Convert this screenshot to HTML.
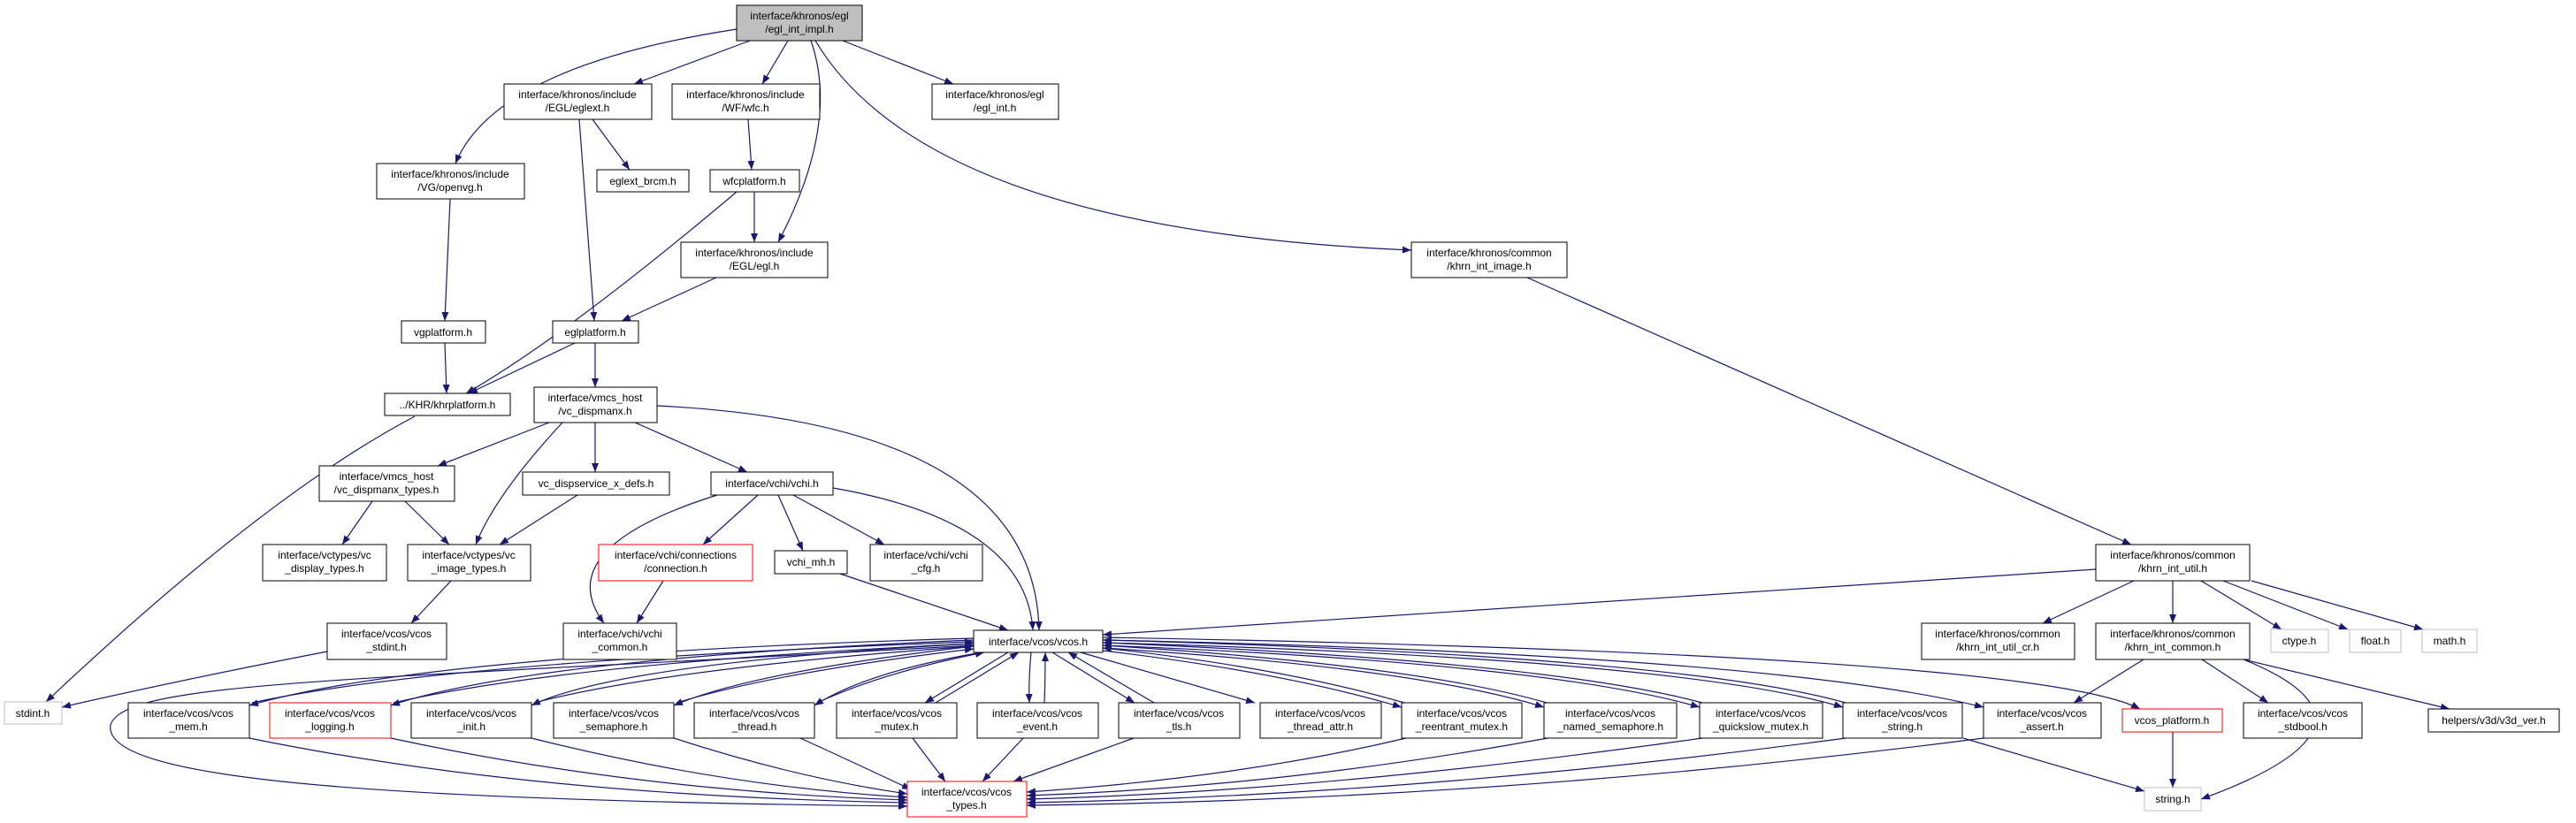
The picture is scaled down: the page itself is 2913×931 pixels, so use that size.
<!DOCTYPE html>
<html><head><meta charset="utf-8"><style>
html,body{margin:0;padding:0;background:#fff;width:2913px;height:931px;overflow:hidden}
svg{display:block}
text{font-family:"Liberation Sans",sans-serif;font-size:12px;fill:#000;text-anchor:middle}
.e{fill:none;stroke:#191970;stroke-width:1.2}
.n{fill:#fff;stroke:#000;stroke-width:1}
.g{fill:#fff;stroke:#bfbfbf;stroke-width:1}
.r{fill:#fff;stroke:#ff0000;stroke-width:1}
</style></head><body>
<svg width="2913" height="931" viewBox="0 0 2913 931" xmlns="http://www.w3.org/2000/svg">
<defs><marker id="a" markerUnits="userSpaceOnUse" markerWidth="11" markerHeight="8" refX="10" refY="4" orient="auto"><path d="M0,0 L10,4 L0,8 z" fill="#191970"/></marker></defs>
<g class="e" marker-end="url(#a)">
<path d="M833,33 Q560,75 515,185"/>
<path d="M848,46 L717,95"/>
<path d="M891,46 L862,95"/>
<path d="M917,46 Q950,140 880,274"/>
<path d="M953,46 L1078,95"/>
<path d="M922,46 Q1050,260 1596,283"/>
<path d="M670,135 L712,192"/>
<path d="M655,135 L672,363"/>
<path d="M846,135 L850,192"/>
<path d="M853,217 L853,274"/>
<path d="M833,217 Q640,380 527,445"/>
<path d="M509,225 L503,363"/>
<path d="M503,388 L505,445"/>
<path d="M810,314 L703,363"/>
<path d="M650,388 L530,445"/>
<path d="M673,388 L673,438"/>
<path d="M1727,314 L2410,616"/>
<path d="M469,471 Q300,560 52,794"/>
<path d="M621,478 L495,527"/>
<path d="M636,478 Q560,560 538,616"/>
<path d="M673,478 L673,534"/>
<path d="M718,478 L845,534"/>
<path d="M743,459 Q1170,480 1175,713"/>
<path d="M421,567 L387,616"/>
<path d="M458,567 L508,616"/>
<path d="M653,560 L565,616"/>
<path d="M510,657 L465,705"/>
<path d="M370,737 Q200,770 70,800"/>
<path d="M811,560 Q620,620 683,705"/>
<path d="M857,560 L795,616"/>
<path d="M880,560 L908,623"/>
<path d="M897,560 L1000,616"/>
<path d="M942,552 Q1160,590 1168,713"/>
<path d="M750,657 L720,705"/>
<path d="M950,649 L1140,713"/>
<path d="M2370,644 L1247,718"/>
<path d="M2413,657 L2310,705"/>
<path d="M2457,657 L2457,705"/>
<path d="M2489,657 L2580,712"/>
<path d="M2514,657 L2655,712"/>
<path d="M2546,657 L2740,712"/>
<path d="M2424,746 L2345,795"/>
<path d="M2490,746 L2565,795"/>
<path d="M2537,746 Q2720,820 2489,904"/>
<path d="M2537,746 L2770,802"/>
<path d="M2457,828 L2457,891"/>
<path d="M2220,835 L2425,895"/>
<!-- vcos.h to left bottom nodes and back -->
<path d="M1101,722 Q480,740 282,798"/>
<path d="M285,795 Q500,748 1101,726"/>
<path d="M1101,724 Q600,745 442,798"/>
<path d="M445,795 Q640,750 1101,728"/>
<path d="M1101,728 Q700,750 601,798"/>
<path d="M604,795 Q760,755 1101,731"/>
<path d="M1101,731 Q850,760 762,798"/>
<path d="M765,795 Q880,760 1101,734"/>
<path d="M1110,738 Q980,760 921,798"/>
<path d="M924,795 Q1000,760 1113,738"/>
<path d="M1140,738 L1046,795"/>
<path d="M1058,795 L1152,738"/>
<path d="M1166,738 Q1163,770 1164,795"/>
<path d="M1181,795 Q1182,770 1182,738"/>
<path d="M1190,738 L1283,795"/>
<path d="M1305,795 L1208,738"/>
<path d="M1222,738 L1419,795"/>
<path d="M1247,736 Q1450,760 1585,800"/>
<path d="M1588,795 Q1450,755 1247,733"/>
<path d="M1247,733 Q1600,755 1746,800"/>
<path d="M1749,795 Q1600,752 1247,730"/>
<path d="M1247,730 Q1750,750 1922,800"/>
<path d="M1925,795 Q1750,748 1247,727"/>
<path d="M1247,727 Q1900,745 2084,800"/>
<path d="M2087,795 Q1900,742 1247,724"/>
<path d="M1247,724 Q2000,740 2243,800"/>
<path d="M1247,721 Q2300,740 2420,802"/>
<!-- to vcos_types -->
<path d="M1101,730 C400,770 140,770 125,820 C115,880 400,905 1026,912"/>
<path d="M282,835 Q600,900 1026,908"/>
<path d="M442,835 Q720,895 1026,905"/>
<path d="M601,835 Q820,890 1026,902"/>
<path d="M762,835 Q900,880 1026,898"/>
<path d="M905,835 Q960,860 1030,893"/>
<path d="M1032,835 L1069,884"/>
<path d="M1157,835 L1111,884"/>
<path d="M1282,835 L1146,884"/>
<path d="M1590,835 Q1400,880 1161,896"/>
<path d="M1750,835 Q1450,890 1161,900"/>
<path d="M1925,835 Q1500,895 1161,904"/>
<path d="M2087,835 Q1600,900 1161,908"/>
<path d="M2243,835 Q1700,905 1161,911"/>
</g>
<!-- nodes -->
<rect x="833" y="6" width="142" height="40" fill="#bfbfbf" stroke="#000"/><text x="904" y="22">interface/khronos/egl</text><text x="904" y="37">/egl_int_impl.h</text>
<rect class="n" x="570" y="95" width="167" height="40"/><text x="653" y="111">interface/khronos/include</text><text x="653" y="126">/EGL/eglext.h</text>
<rect class="n" x="760" y="95" width="167" height="40"/><text x="843" y="111">interface/khronos/include</text><text x="843" y="126">/WF/wfc.h</text>
<rect class="n" x="1054" y="95" width="143" height="40"/><text x="1125" y="111">interface/khronos/egl</text><text x="1125" y="126">/egl_int.h</text>
<rect class="n" x="426" y="185" width="167" height="40"/><text x="509" y="201">interface/khronos/include</text><text x="509" y="216">/VG/openvg.h</text>
<rect class="n" x="675" y="192" width="104" height="25"/><text x="727" y="209">eglext_brcm.h</text>
<rect class="n" x="803" y="192" width="101" height="25"/><text x="853" y="209">wfcplatform.h</text>
<rect class="n" x="770" y="274" width="166" height="40"/><text x="853" y="290">interface/khronos/include</text><text x="853" y="305">/EGL/egl.h</text>
<rect class="n" x="1596" y="274" width="176" height="40"/><text x="1684" y="290">interface/khronos/common</text><text x="1684" y="305">/khrn_int_image.h</text>
<rect class="n" x="454" y="363" width="95" height="25"/><text x="501" y="380">vgplatform.h</text>
<rect class="n" x="625" y="363" width="97" height="25"/><text x="673" y="380">eglplatform.h</text>
<rect class="n" x="435" y="445" width="142" height="25"/><text x="506" y="462">../KHR/khrplatform.h</text>
<rect class="n" x="604" y="438" width="139" height="40"/><text x="673" y="454">interface/vmcs_host</text><text x="673" y="469">/vc_dispmanx.h</text>
<rect class="n" x="361" y="527" width="153" height="40"/><text x="437" y="543">interface/vmcs_host</text><text x="437" y="558">/vc_dispmanx_types.h</text>
<rect class="n" x="591" y="534" width="166" height="26"/><text x="674" y="551">vc_dispservice_x_defs.h</text>
<rect class="n" x="804" y="534" width="138" height="26"/><text x="873" y="551">interface/vchi/vchi.h</text>
<rect class="n" x="297" y="616" width="140" height="41"/><text x="367" y="632">interface/vctypes/vc</text><text x="367" y="647">_display_types.h</text>
<rect class="n" x="461" y="616" width="139" height="41"/><text x="530" y="632">interface/vctypes/vc</text><text x="530" y="647">_image_types.h</text>
<rect class="r" x="677" y="616" width="174" height="41"/><text x="764" y="632">interface/vchi/connections</text><text x="764" y="647">/connection.h</text>
<rect class="n" x="876" y="623" width="82" height="26"/><text x="917" y="640">vchi_mh.h</text>
<rect class="n" x="984" y="616" width="127" height="41"/><text x="1047" y="632">interface/vchi/vchi</text><text x="1047" y="647">_cfg.h</text>
<rect class="n" x="2370" y="616" width="174" height="41"/><text x="2457" y="632">interface/khronos/common</text><text x="2457" y="647">/khrn_int_util.h</text>
<rect class="n" x="370" y="705" width="135" height="41"/><text x="437" y="721">interface/vcos/vcos</text><text x="437" y="736">_stdint.h</text>
<rect class="n" x="637" y="705" width="128" height="41"/><text x="701" y="721">interface/vchi/vchi</text><text x="701" y="736">_common.h</text>
<rect class="n" x="1101" y="713" width="146" height="25"/><text x="1174" y="730">interface/vcos/vcos.h</text>
<rect class="n" x="2173" y="705" width="173" height="41"/><text x="2259" y="721">interface/khronos/common</text><text x="2259" y="736">/khrn_int_util_cr.h</text>
<rect class="n" x="2370" y="705" width="174" height="41"/><text x="2457" y="721">interface/khronos/common</text><text x="2457" y="736">/khrn_int_common.h</text>
<rect class="g" x="2568" y="712" width="65" height="26"/><text x="2600" y="729">ctype.h</text>
<rect class="g" x="2657" y="712" width="58" height="26"/><text x="2686" y="729">float.h</text>
<rect class="g" x="2739" y="712" width="62" height="26"/><text x="2770" y="729">math.h</text>
<rect class="g" x="5" y="794" width="65" height="25"/><text x="37" y="811">stdint.h</text>
<rect class="n" x="145" y="795" width="137" height="40"/><text x="213" y="811">interface/vcos/vcos</text><text x="213" y="826">_mem.h</text>
<rect class="r" x="305" y="795" width="137" height="40"/><text x="373" y="811">interface/vcos/vcos</text><text x="373" y="826">_logging.h</text>
<rect class="n" x="465" y="795" width="136" height="40"/><text x="533" y="811">interface/vcos/vcos</text><text x="533" y="826">_init.h</text>
<rect class="n" x="626" y="795" width="136" height="40"/><text x="694" y="811">interface/vcos/vcos</text><text x="694" y="826">_semaphore.h</text>
<rect class="n" x="785" y="795" width="136" height="40"/><text x="853" y="811">interface/vcos/vcos</text><text x="853" y="826">_thread.h</text>
<rect class="n" x="946" y="795" width="136" height="40"/><text x="1014" y="811">interface/vcos/vcos</text><text x="1014" y="826">_mutex.h</text>
<rect class="n" x="1105" y="795" width="137" height="40"/><text x="1173" y="811">interface/vcos/vcos</text><text x="1173" y="826">_event.h</text>
<rect class="n" x="1265" y="795" width="137" height="40"/><text x="1333" y="811">interface/vcos/vcos</text><text x="1333" y="826">_tls.h</text>
<rect class="n" x="1425" y="795" width="137" height="40"/><text x="1493" y="811">interface/vcos/vcos</text><text x="1493" y="826">_thread_attr.h</text>
<rect class="n" x="1585" y="795" width="136" height="40"/><text x="1653" y="811">interface/vcos/vcos</text><text x="1653" y="826">_reentrant_mutex.h</text>
<rect class="n" x="1746" y="795" width="150" height="40"/><text x="1821" y="811">interface/vcos/vcos</text><text x="1821" y="826">_named_semaphore.h</text>
<rect class="n" x="1922" y="795" width="139" height="40"/><text x="1991" y="811">interface/vcos/vcos</text><text x="1991" y="826">_quickslow_mutex.h</text>
<rect class="n" x="2084" y="795" width="135" height="40"/><text x="2151" y="811">interface/vcos/vcos</text><text x="2151" y="826">_string.h</text>
<rect class="n" x="2243" y="795" width="133" height="40"/><text x="2309" y="811">interface/vcos/vcos</text><text x="2309" y="826">_assert.h</text>
<rect class="r" x="2400" y="802" width="113" height="26"/><text x="2456" y="819">vcos_platform.h</text>
<rect class="n" x="2537" y="795" width="134" height="40"/><text x="2604" y="811">interface/vcos/vcos</text><text x="2604" y="826">_stdbool.h</text>
<rect class="n" x="2746" y="802" width="148" height="26"/><text x="2820" y="819">helpers/v3d/v3d_ver.h</text>
<rect class="r" x="1026" y="884" width="135" height="40"/><text x="1093" y="900">interface/vcos/vcos</text><text x="1093" y="915">_types.h</text>
<rect class="g" x="2425" y="891" width="64" height="26"/><text x="2457" y="908">string.h</text>
</svg>
</body></html>
